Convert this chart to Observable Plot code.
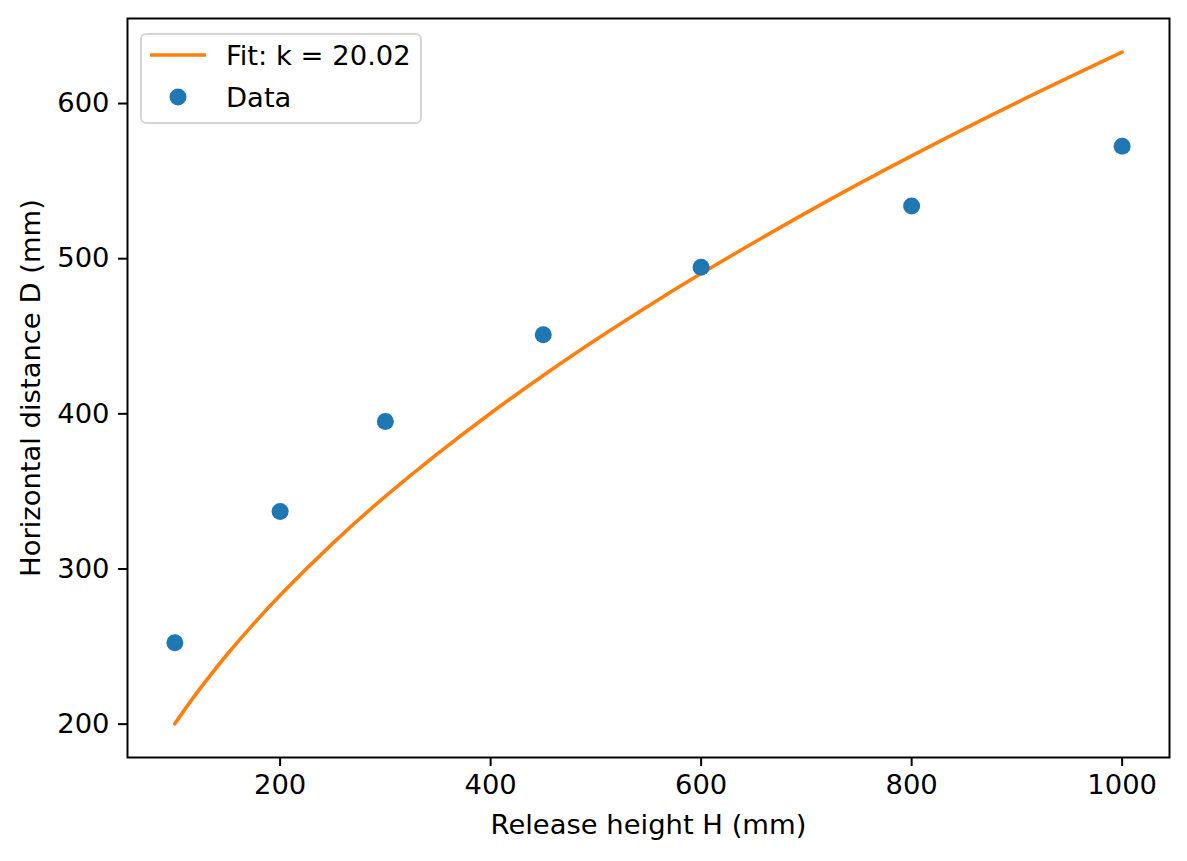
<!DOCTYPE html>
<html>
<head>
<meta charset="utf-8">
<script src="https://cdn.jsdelivr.net/npm/d3@7"></script>
<script src="https://cdn.jsdelivr.net/npm/@observablehq/plot@0.6"></script>
<style>
  html, body { margin: 0; padding: 0; background: white; }
  #wrap { position: relative; width: 1187px; height: 861px; }
  #legend {
    position: absolute; left: 140px; top: 33px; width: 278px; height: 87px;
    border: 2px solid #d5d5d5; border-radius: 6px; background: rgba(255,255,255,0.8);
    font-family: "DejaVu Sans"; color: black;
  }
</style>
</head>
<body>
<div id="wrap"></div>
<script>
// Measured data points
const heights = [100, 200, 300, 450, 600, 800, 1000];
const distances = [252.5, 337, 395, 451, 494.5, 534, 572.5];

// Fit curve samples (k = 20.02)
const fitHeights = [100, 110, 125, 150, 175, 200, 250, 300, 350, 400, 450, 500, 550, 600, 700, 800, 900, 1000];
const fitDistances = [200.2, 210.0, 223.8, 245.2, 264.8, 283.1, 316.5, 346.8, 374.5, 400.4, 424.7, 447.7, 469.5, 490.4, 529.7, 566.3, 600.6, 633.1];

const xTicks = [200, 400, 600, 800, 1000];
const yTicks = [200, 300, 400, 500, 600];

const fitLabel = "Fit: k = 20.02";
const dataLabel = "Data";
const xLabel = "Release height H (mm)";
const yLabel = "Horizontal distance D (mm)";

const FS = "27.4px";

const dataRows = heights.map((h, i) => ({H: h, D: distances[i]}));
const fitRows = fitHeights.map((h, i) => ({H: h, D: fitDistances[i]}));

const chart = Plot.plot({
  width: 1187,
  height: 861,
  marginLeft: 127,
  marginRight: 18,
  marginTop: 18,
  marginBottom: 104,
  style: {fontFamily: "DejaVu Sans", fontSize: FS, color: "black", background: "white"},
  x: {domain: [55, 1045]},
  y: {domain: [178.5, 654.8]},
  marks: [
    Plot.line(fitRows, {x: "H", y: "D", stroke: "#ff7f0e", strokeWidth: 3.6, curve: "natural"}),
    Plot.dot(dataRows, {x: "H", y: "D", r: 8.5, fill: "#1f77b4"}),
    Plot.frame({stroke: "black", strokeWidth: 2}),
    Plot.axisX({ticks: xTicks, tickFormat: d3.format("d"), tickSize: 9, tickPadding: 8, strokeWidth: 2, label: null, fontSize: FS}),
    Plot.axisY({ticks: yTicks, tickFormat: d3.format("d"), tickSize: 9, tickPadding: 9, strokeWidth: 2, label: null, fontSize: FS}),
    Plot.text([xLabel], {frameAnchor: "bottom", text: d => d, dy: 68, textAnchor: "middle", lineAnchor: "middle", fontSize: FS, fill: "black"}),
    Plot.text([yLabel], {frameAnchor: "left", text: d => d, dx: -96, rotate: -90, textAnchor: "middle", lineAnchor: "middle", fontSize: FS, fill: "black"})
  ]
});

const wrap = document.getElementById("wrap");
wrap.appendChild(chart);

// Legend
const legend = document.createElement("div");
legend.id = "legend";
const ls = d3.create("svg").attr("width", 278).attr("height", 87);
ls.append("line").attr("x1", 8).attr("x2", 64).attr("y1", 20).attr("y2", 20)
  .attr("stroke", "#ff7f0e").attr("stroke-width", 3.6);
ls.append("circle").attr("cx", 36).attr("cy", 62).attr("r", 8.5).attr("fill", "#1f77b4");
ls.append("text").attr("x", 84).attr("y", 20).attr("dy", "0.36em").attr("font-family", "DejaVu Sans")
  .attr("font-size", FS).text(fitLabel);
ls.append("text").attr("x", 84).attr("y", 62).attr("dy", "0.36em").attr("font-family", "DejaVu Sans")
  .attr("font-size", FS).text(dataLabel);
legend.appendChild(ls.node());
wrap.appendChild(legend);
</script>
</body>
</html>
